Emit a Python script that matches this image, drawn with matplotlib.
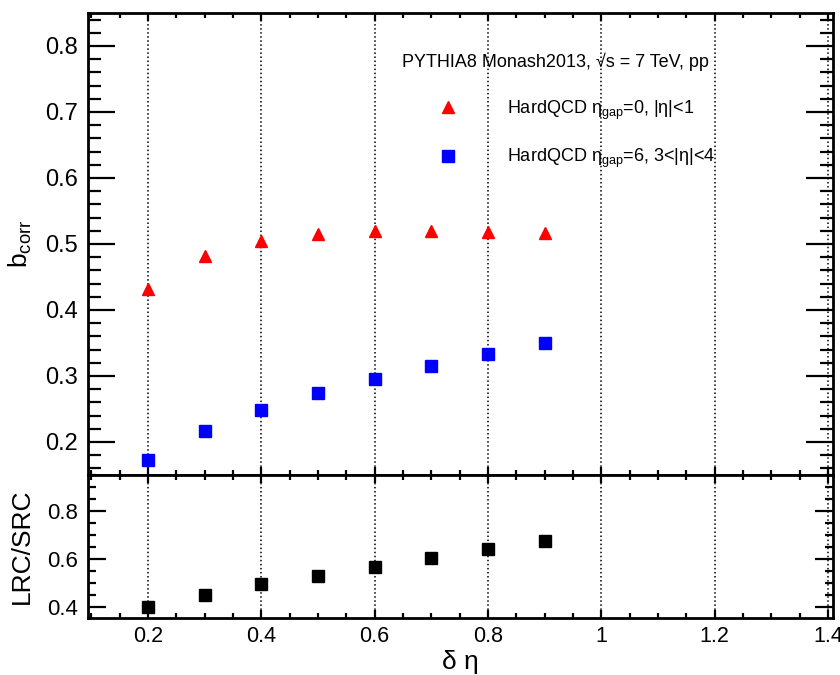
import numpy as np
import matplotlib
matplotlib.use('Agg')
from matplotlib import pyplot as plt
from matplotlib.ticker import MultipleLocator, FormatStrFormatter

plt.rcParams['font.family'] = ['Liberation Sans', 'DejaVu Sans']
plt.rcParams['mathtext.fontset'] = 'custom'
plt.rcParams['mathtext.rm'] = 'Liberation Sans'
plt.rcParams['mathtext.it'] = 'Liberation Sans'

deta = [0.2, 0.3, 0.4, 0.5, 0.6, 0.7, 0.8, 0.9]
b_src = [0.432, 0.482, 0.505, 0.515, 0.519, 0.519, 0.518, 0.516]
b_lrc = [0.172, 0.217, 0.248, 0.274, 0.295, 0.315, 0.333, 0.350]
ratio = [0.400, 0.450, 0.494, 0.530, 0.568, 0.606, 0.641, 0.677]

lab_src = r'HardQCD $\mathregular{\eta_{gap}}$=0, |η|<1'
lab_lrc = r'HardQCD $\mathregular{\eta_{gap}}$=6, 3<|η|<4'

fig = plt.figure(figsize=(8.4, 6.75), dpi=100)
ax1 = fig.add_axes([88/840, 1-475/675, 745/840, 462/675])
ax2 = fig.add_axes([88/840, 1-618/675, 745/840, 143/675], sharex=ax1)

ax1.plot(deta, b_src, '^', color='red', markersize=8.5, label=lab_src, zorder=3)
ax1.plot(deta, b_lrc, 's', color='blue', markersize=8, label=lab_lrc, zorder=3)
ax2.plot(deta, ratio, 's', color='black', markersize=8, zorder=3)

ax1.set_xlim(0.094, 1.409)
ax1.set_ylim(0.15, 0.85)
ax2.set_ylim(0.353, 0.951)

for ax in (ax1, ax2):
    ax.xaxis.set_major_locator(MultipleLocator(0.2))
    ax.xaxis.set_minor_locator(MultipleLocator(0.05))
    ax.grid(axis='x', which='major', linestyle=':', color='black', linewidth=1.1)
    for s in ax.spines.values():
        s.set_linewidth(2)
    ax.tick_params(which='both', direction='in', top=True, right=True, width=1.6)

ax1.yaxis.set_major_locator(MultipleLocator(0.1))
ax1.yaxis.set_minor_locator(MultipleLocator(0.02))
ax1.yaxis.set_major_formatter(FormatStrFormatter('%.1f'))
ax1.tick_params(axis='y', which='major', length=19.5, labelsize=17, pad=7)
ax1.tick_params(axis='y', which='minor', length=9.5)
ax1.tick_params(axis='x', which='major', length=6)
ax1.tick_params(axis='x', which='minor', length=3.5)
ax1.tick_params(axis='x', labelbottom=False)

ax2.yaxis.set_major_locator(MultipleLocator(0.2))
ax2.yaxis.set_minor_locator(MultipleLocator(0.05))
ax2.yaxis.set_major_formatter(FormatStrFormatter('%.1f'))
ax2.tick_params(axis='y', which='major', length=13, labelsize=16, pad=7)
ax2.tick_params(axis='y', which='minor', length=6)
ax2.tick_params(axis='x', which='major', length=6, labelsize=15.5, pad=6)
ax2.tick_params(axis='x', which='minor', length=3.5)
ax2.xaxis.set_major_formatter(plt.FuncFormatter(lambda v, p: ('%.1f' % v).rstrip('0').rstrip('.')))

ax1.set_ylabel(r'b$_{\mathregular{corr}}$', fontsize=19)
ax2.set_ylabel('LRC/SRC', fontsize=19)
ax1.yaxis.set_label_coords(-0.072, 0.5)
ax2.yaxis.set_label_coords(-0.072, 0.5)
ax2.set_xlabel('δ η', fontsize=19, labelpad=2)

ax1.text(0.422, 0.895, 'PYTHIA8 Monash2013, √s = 7 TeV, pp', transform=ax1.transAxes,
         fontsize=13, va='center')
ax1.legend(loc='upper left', bbox_to_anchor=(0.437, 0.85), frameon=False, fontsize=13,
           handlelength=2, handletextpad=2.3, labelspacing=1.4, numpoints=1)

fig.savefig('out.png', dpi=100)
